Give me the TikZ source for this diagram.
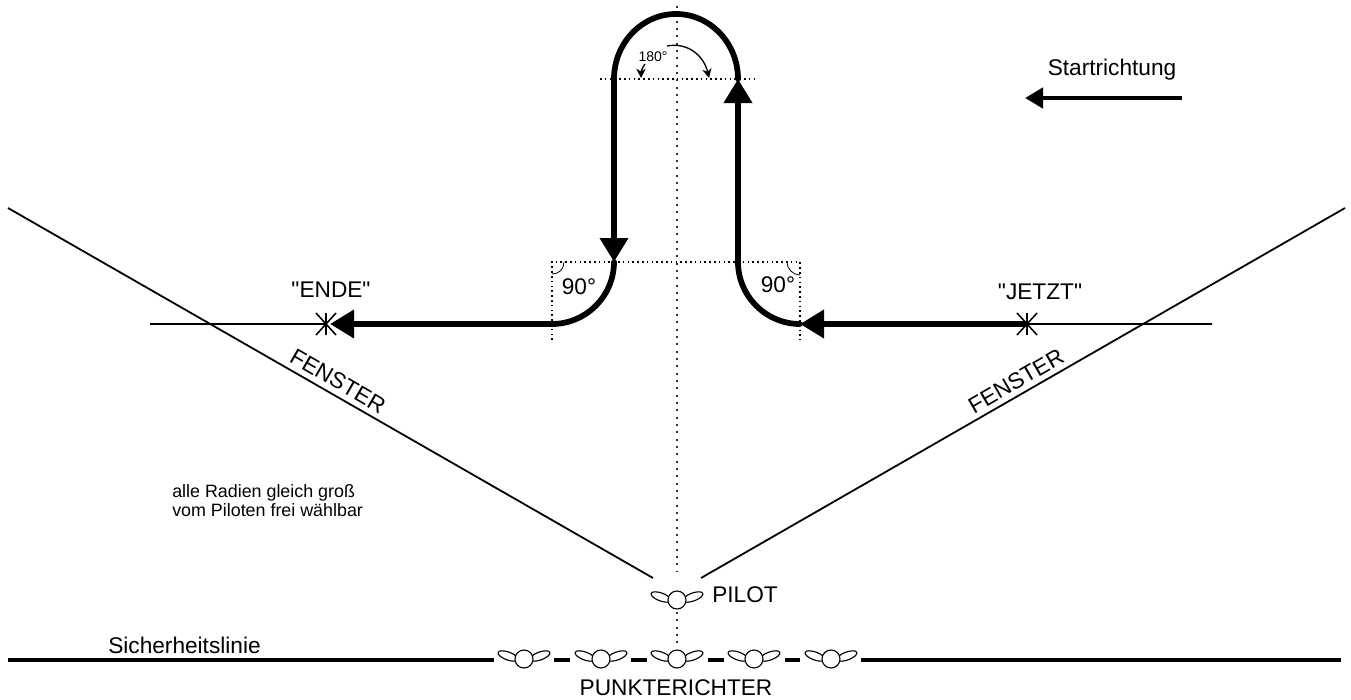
\documentclass[tikz,border=0pt]{standalone}
\usepackage{fontspec}
\setmainfont{Liberation Sans}
\newfontfamily\plainquotes{Liberation Sans}
\usetikzlibrary{arrows.meta}
\tikzset{
  thinline/.style={line width=1.35pt,black},
  thickline/.style={line width=4.3pt,black},
  sepline/.style={line width=3.7pt,black},
  flightarrow/.style={thickline,-{Triangle[length=18pt,width=20.5pt]}},
  startarrow/.style={line width=3.3pt,-{Triangle[length=13.5pt,width=15pt]}},
  flightcurve/.style={thickline,line cap=round},
  centerdots/.style={line width=1pt,black!80,dash pattern=on 1.5pt off 4pt},
  guidedots/.style={line width=.8pt,dash pattern=on 1.2pt off 2.4pt},
  anglemark/.style={line width=.6pt},
  angleturn/.style={line width=1pt,-{Stealth[length=7pt,width=7pt]}},
  lab/.style={inner sep=0pt,font=\fontsize{17}{19}\selectfont},
  smalllab/.style={inner sep=0pt,font=\fontsize{10.5}{12}\selectfont}
}
\newcommand{\personmark}[3]{%
  \begin{scope}[shift={(#1,#2)},line width=.85pt]
    \coordinate (#3) at (0,0);
    \draw[rotate around={-20:(-16,-3)}] (-16,-3) ellipse [x radius=10.5,y radius=4];
    \draw[rotate around={20:(16,-3)}] (16,-3) ellipse [x radius=10.5,y radius=4];
    \draw[fill=white] (0,0) circle [radius=9];
  \end{scope}}
\newcommand{\crossmark}[3]{%
  \begin{scope}[shift={(#1,#2)},line width=1.15pt]
    \coordinate (#3) at (0,0);
    \draw (0,-11) -- (0,11);
    \draw (-10,-11) -- (10,11);
    \draw (-10,11) -- (10,-11);
  \end{scope}}
\begin{document}
\begin{tikzpicture}[x=.75pt,y=-.75pt]
\useasboundingbox (0,0) rectangle (1351,699);
% guide lines
\coordinate (cTop) at (677,6); \coordinate (cPilotUp) at (677,572);
\coordinate (cPilotDown) at (677,612); \coordinate (cJudge) at (677,644);
\draw[centerdots] (cTop) -- (cPilotUp);
\draw[centerdots] (cPilotDown) -- (cJudge);
\coordinate (hA) at (600,79); \coordinate (hB) at (755,79);
\draw[guidedots] (hA) -- (hB);
\coordinate (cornerL) at (552,262); \coordinate (cornerR) at (800,262);
\coordinate (cornerLb) at (552,340); \coordinate (cornerRb) at (800,340);
\draw[guidedots] (cornerLb) -- (cornerL) -- (cornerR) -- (cornerRb);
\draw[anglemark] (564,262) .. controls (564,269) and (559,274) .. (552,274);
\draw[anglemark] (787,262) .. controls (787,269) and (793,275) .. (800,275);
% window
\coordinate (wLa) at (8,208); \coordinate (wLb) at (653,578);
\coordinate (wRa) at (1345,208); \coordinate (wRb) at (701,578);
\draw[thinline] (wLa) -- (wLb);
\draw[thinline] (wRa) -- (wRb);
% marks and thin flight line
\crossmark{326}{324}{endM}
\crossmark{1027}{324}{startM}
\coordinate (lineL) at (150,324); \coordinate (lineR) at (1212,324);
\draw[thinline] (lineL) -- (endM);
\draw[thinline] (startM) -- (lineR);
% flight path
\coordinate (p1) at (800,324); \coordinate (p2) at (738,262); \coordinate (p3) at (738,79);
\coordinate (p4) at (614,79); \coordinate (p5) at (614,262); \coordinate (p6) at (552,324);
\coordinate (p7) at (330,324);
\draw[flightarrow] (startM) -- (p1);
\draw[flightarrow] (p2) -- (p3);
\draw[flightarrow] (p4) -- (p5);
\draw[flightarrow] (p6) -- (p7);
\draw[flightcurve] (p1) .. controls (766,324) and (738,296) .. (p2);
\draw[flightcurve] (p3) .. controls (738,43) and (710,14) .. (676,14) .. controls (642,14) and (614,43) .. (p4);
\draw[flightcurve] (p5) .. controls (614,296) and (586,324) .. (p6);
% angle arrows
\draw[angleturn] (667,46) .. controls (688,42) and (704,56) .. (709,78);
\draw[angleturn] (645,64) .. controls (642,68) and (641,72) .. (641,78);
% start direction
\coordinate (sA) at (1182,98); \coordinate (sB) at (1025,98);
\draw[startarrow] (sA) -- (sB);
% safety line
\coordinate (s1) at (8,660); \coordinate (s2) at (494,660);
\coordinate (s3) at (554,660); \coordinate (s4) at (570,660);
\coordinate (s5) at (631,660); \coordinate (s6) at (647,660);
\coordinate (s7) at (708,660); \coordinate (s8) at (724,660);
\coordinate (s9) at (785,660); \coordinate (s10) at (800,660);
\coordinate (s11) at (861,660); \coordinate (s12) at (1341,660);
\draw[sepline] (s1) -- (s2);
\draw[sepline] (s3) -- (s4);
\draw[sepline] (s5) -- (s6);
\draw[sepline] (s7) -- (s8);
\draw[sepline] (s9) -- (s10);
\draw[sepline] (s11) -- (s12);
% people
\personmark{677}{600}{pilot}
\personmark{524}{659}{j1}
\personmark{601}{659}{j2}
\personmark{677}{659}{j3}
\personmark{754}{659}{j4}
\personmark{831}{659}{j5}
% labels
\node[lab] (tStart) at (1112,70) {Startrichtung};
\node[lab] (tEnde) at (331,290) {\plainquotes "ENDE"};
\node[lab] (tJetzt) at (1040,292) {\plainquotes "JETZT"};
\node[lab] (t90l) at (579,287) {90°};
\node[lab] (t90r) at (778,285) {90°};
\node[smalllab] (t180) at (653,57) {180°};
\node[lab,rotate=-30] (tFl) at (338,381) {FENSTER};
\node[lab,rotate=30] (tFr) at (1016,381) {FENSTER};
\node[lab,anchor=west,align=left,font=\fontsize{13.4}{14.3}\selectfont] (tAlle) at (172,501) {alle Radien gleich groß\\vom Piloten frei wählbar};
\node[lab,anchor=west] (tPilot) at (712,595) {PILOT};
\node[lab,anchor=west] (tSich) at (108,645) {Sicherheitslinie};
\node[lab] (tPunkt) at (676,688) {PUNKTERICHTER};
\end{tikzpicture}
\end{document}
